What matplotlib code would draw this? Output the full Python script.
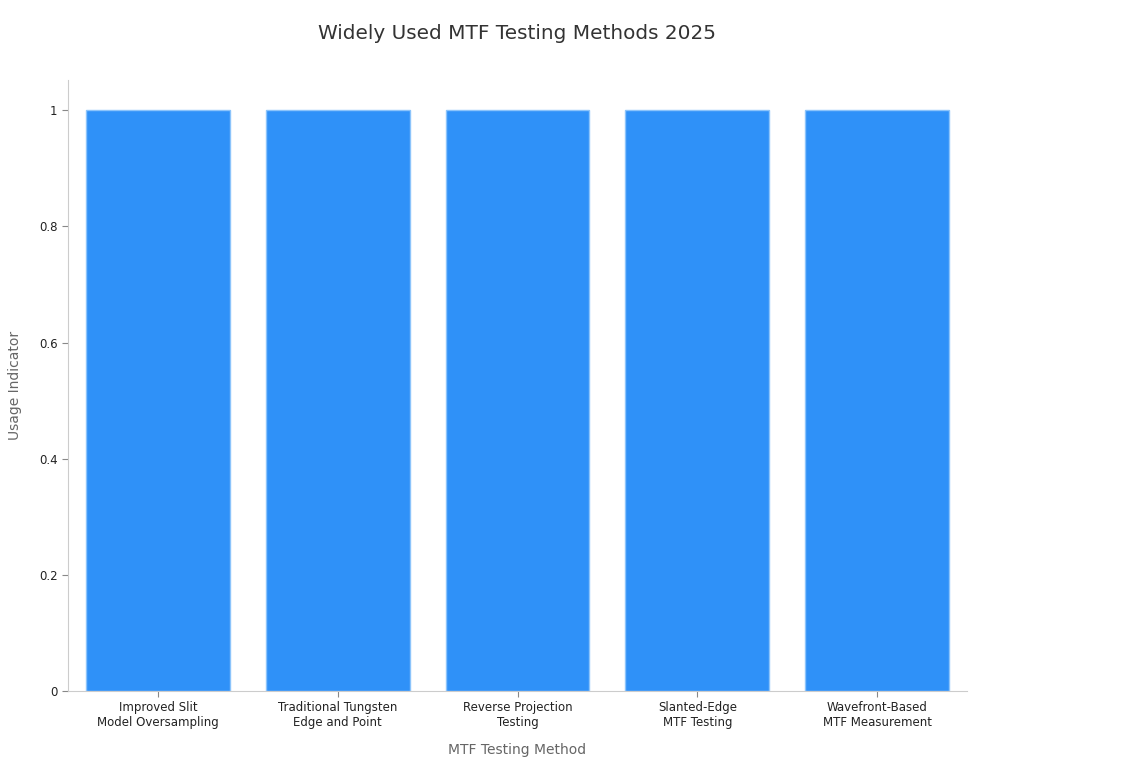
import matplotlib
matplotlib.use("Agg")
import matplotlib.pyplot as plt

methods = [
    "Improved Slit\nModel Oversampling",
    "Traditional Tungsten\nEdge and Point",
    "Reverse Projection\nTesting",
    "Slanted-Edge\nMTF Testing",
    "Wavefront-Based\nMTF Measurement",
]
usage = [1, 1, 1, 1, 1]
y_ticks = [0, 0.2, 0.4, 0.6, 0.8, 1]
y_tick_labels = ["0", "0.2", "0.4", "0.6", "0.8", "1"]

fig = plt.figure(figsize=(11.22, 7.72), dpi=100)
ax = fig.add_axes([0.0606, 0.1049, 0.8013, 0.7915])

x = range(len(methods))
ax.bar(x, usage, width=0.8, color="#2f91f8", edgecolor="#8cc4fb", linewidth=1)

ax.set_xlim(-0.5, len(methods) - 0.5)
ax.set_ylim(0, 1.052)
ax.set_xticks(list(x))
ax.set_xticklabels(methods, fontsize=8.5, color="#222222")
ax.set_yticks(y_ticks)
ax.set_yticklabels(y_tick_labels, fontsize=8.5, color="#222222")
ax.tick_params(axis="both", length=4, color="#888888")

for side in ["top", "right"]:
    ax.spines[side].set_visible(False)
for side in ["left", "bottom"]:
    ax.spines[side].set_color("#cccccc")

ax.set_xlabel("MTF Testing Method", fontsize=10, color="#666666", labelpad=10)
ax.set_ylabel("Usage Indicator", fontsize=10, color="#666666", labelpad=12)
fig.text(0.4608, 0.957, "Widely Used MTF Testing Methods 2025", fontsize=14.4,
         color="#333333", ha="center", va="center")

fig.savefig("out.png", dpi=100)
